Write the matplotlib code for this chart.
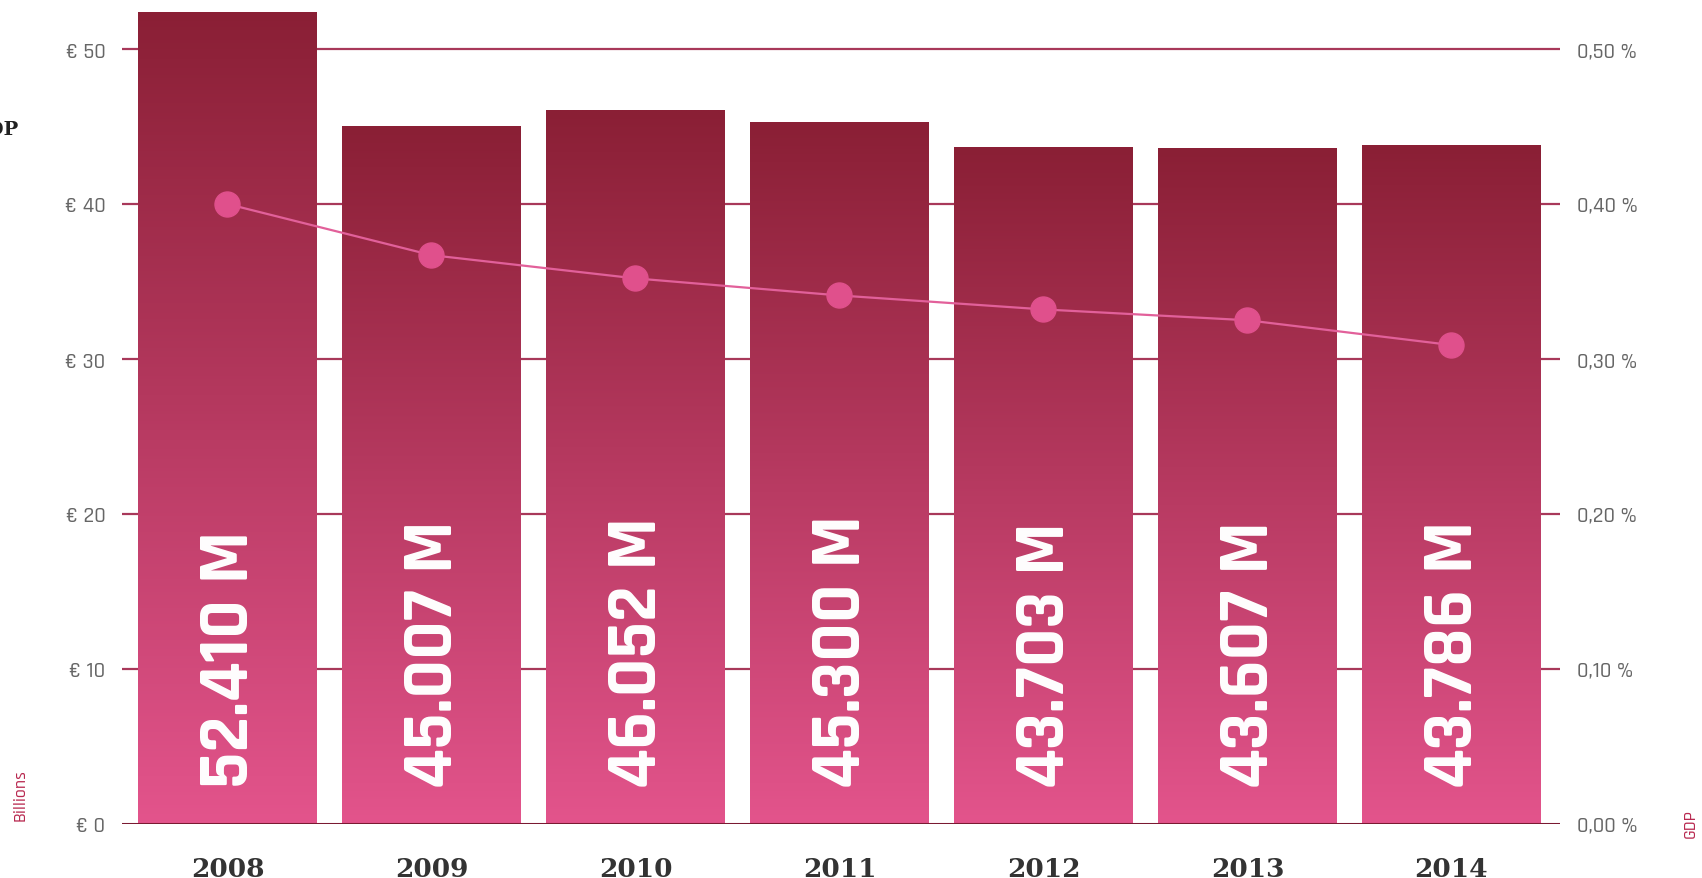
import matplotlib
matplotlib.use("Agg")
import matplotlib.pyplot as plt
import numpy as np
from matplotlib.colors import LinearSegmentedColormap

years = ["2008", "2009", "2010", "2011", "2012", "2013", "2014"]
spend_billions = [52.410, 45.007, 46.052, 45.300, 43.703, 43.607, 43.786]
bar_labels = ["52.410 M", "45.007 M", "46.052 M", "45.300 M", "43.703 M", "43.607 M", "43.786 M"]
gdp_pct = [0.400, 0.367, 0.352, 0.341, 0.332, 0.325, 0.309]
left_ticks = [0, 10, 20, 30, 40, 50]
left_tick_labels = ["€ 0", "€ 10", "€ 20", "€ 30", "€ 40", "€ 50"]
right_ticks = [0.0, 0.1, 0.2, 0.3, 0.4, 0.5]
right_tick_labels = ["0,00 %", "0,10 %", "0,20 %", "0,30 %", "0,40 %", "0,50 %"]

W, H = 1702, 879
fig = plt.figure(figsize=(W / 100, H / 100), dpi=100)
ax_l, ax_r, ax_b, ax_t = 122, 1560, 825, 0
ax = fig.add_axes([ax_l / W, (H - ax_b) / H, (ax_r - ax_l) / W, (ax_b - ax_t) / H])

unit = 15.5  # px per euro billion
ymax = (ax_b - ax_t) / unit
x = np.arange(len(years))

cond = ["Rajdhani", "Saira Condensed", "DejaVu Sans"]
tickf = ["Rajdhani", "Saira Condensed", "DejaVu Sans"]
slab = ["DejaVu Serif"]

# grid lines
for t in left_ticks[1:]:
    ax.axhline(t, color="#a8385a", lw=1.6, zorder=0)
ax.axhline(0, color="#7a1a32", lw=2.2, zorder=5)

bars = ax.bar(x, spend_billions, width=0.877, color="none", zorder=2)
cmap = LinearSegmentedColormap.from_list("g", ["#e3548c", "#8a1f35"])
grad = np.linspace(0, 1, 256).reshape(-1, 1)
for b in bars:
    x0, y0, w, h = b.get_x(), b.get_y(), b.get_width(), b.get_height()
    im = ax.imshow(grad, extent=[x0, x0 + w, y0, y0 + h], origin="lower",
                   aspect="auto", cmap=cmap, zorder=2)
    im.set_clip_path(b)
ax.set_aspect("auto")
ax.set_xlim(-0.517, 6.532)
ax.set_ylim(0, ymax)

for xi, lab in zip(x, bar_labels):
    ax.text(xi, 2.4, lab, rotation=90, ha="center", va="bottom", color="white",
            fontsize=52, fontweight="bold", family=cond, zorder=6)

ax.set_yticks(left_ticks)
ax.set_yticklabels(left_tick_labels, family=tickf, fontsize=16, fontweight="medium", color="#666666")
ax.tick_params(axis="y", length=0, pad=12)
ax.set_xticks(x)
ax.set_xticklabels(years, family=slab, fontweight="bold", fontsize=19, color="#333333")
ax.tick_params(axis="x", length=0, pad=23)
for s in ax.spines.values():
    s.set_visible(False)

ax2 = ax.twinx()
ax2.set_ylim(0, ymax / 100)
ax2.plot(x, gdp_pct, color="#e2609a", lw=1.6, marker="o", markersize=18,
         markerfacecolor="#e0508c", markeredgecolor="#e0508c", zorder=7)
ax2.set_yticks(right_ticks)
ax2.set_yticklabels(right_tick_labels, family=tickf, fontsize=16, fontweight="medium", color="#666666")
ax2.tick_params(axis="y", length=0, pad=12)
for s in ax2.spines.values():
    s.set_visible(False)

fig.text(20 / W, 1 - 795 / H, "Billions", rotation=90, ha="center", va="center",
         color="#b8284f", fontsize=13, fontweight="medium", family=tickf)
fig.text(1690 / W, 1 - 823 / H, "GDP", rotation=90, ha="center", va="center",
         color="#b8284f", fontsize=13, fontweight="medium", family=tickf)
fig.text(18 / W, 1 - 130 / H, "GDP", ha="right", va="center", color="#222222",
         fontsize=14, fontweight="bold", family=slab)

fig.savefig("out.png", dpi=100)
